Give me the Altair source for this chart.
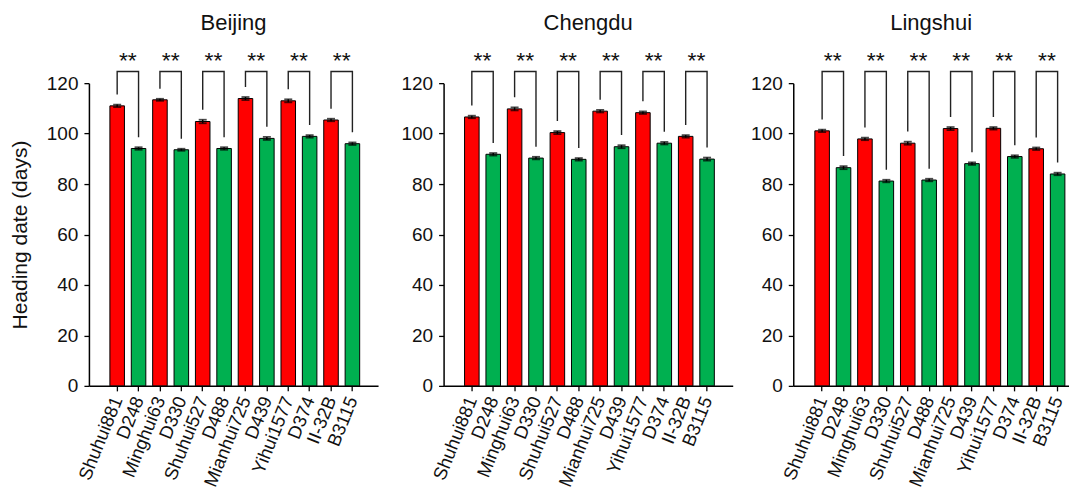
import altair as alt
import pandas as pd

sites = ["Beijing", "Chengdu", "Lingshui"]
cultivars = ["Shuhui881", "D248", "Minghui63", "D330", "Shuhui527", "D488",
             "Mianhui725", "D439", "Yihui1577", "D374", "II-32B", "B3115"]
groups = ["late", "early"] * 6

beijing = [111.0, 94.1, 113.4, 93.6, 104.8, 94.1, 113.9, 98.1, 113.0, 98.9, 105.4, 96.0]
chengdu = [106.6, 91.8, 109.8, 90.3, 100.4, 89.8, 108.9, 94.8, 108.3, 96.2, 98.9, 89.9]
lingshui = [101.1, 86.5, 97.9, 81.2, 96.2, 81.6, 102.0, 88.1, 102.1, 90.9, 94.0, 84.0]

beijing_err = [0.5, 0.5, 0.4, 0.4, 0.7, 0.5, 0.6, 0.6, 0.6, 0.5, 0.5, 0.5]
chengdu_err = [0.5, 0.5, 0.6, 0.5, 0.6, 0.5, 0.5, 0.6, 0.5, 0.5, 0.5, 0.6]
lingshui_err = [0.5, 0.6, 0.5, 0.5, 0.6, 0.5, 0.6, 0.5, 0.5, 0.5, 0.5, 0.5]

significance = ["**"] * 6
bracket_top = 124.6
leg_gap = 4.0
star_y = 126.2

values = {"Beijing": beijing, "Chengdu": chengdu, "Lingshui": lingshui}
errors = {"Beijing": beijing_err, "Chengdu": chengdu_err, "Lingshui": lingshui_err}

RED = "#FF0000"
GREEN = "#00B050"
FONT = "Liberation Sans"

# per-panel layout: (width, paddingOuter, align)
layout = {
    "Beijing": (289.4, 0.92, 0.533),
    "Chengdu": (289.4, 0.92, 0.533),
    "Lingshui": (276.0, 0.60, 0.84),
}


def build_frames(site):
    vals = values[site]
    errs = errors[site]
    bars = pd.DataFrame({
        "cultivar": cultivars,
        "group": groups,
        "value": vals,
        "lo": [v - e for v, e in zip(vals, errs)],
        "hi": [v + e for v, e in zip(vals, errs)],
    })
    br_rows = []
    st_rows = []
    for p in range(6):
        a, b = cultivars[2 * p], cultivars[2 * p + 1]
        va, vb = vals[2 * p] + errs[2 * p], vals[2 * p + 1] + errs[2 * p + 1]
        br_rows += [
            {"pair": p, "step": 0, "cultivar": a, "value": va + leg_gap},
            {"pair": p, "step": 1, "cultivar": a, "value": bracket_top},
            {"pair": p, "step": 2, "cultivar": b, "value": bracket_top},
            {"pair": p, "step": 3, "cultivar": b, "value": vb + leg_gap},
        ]
        st_rows.append({"cultivar": a, "value": star_y, "label": significance[p]})
    return bars, pd.DataFrame(br_rows), pd.DataFrame(st_rows)


def panel(site, first):
    bars, brackets, stars = build_frames(site)
    w, po, al = layout[site]
    xscale = alt.Scale(domain=cultivars, paddingInner=0.32, paddingOuter=po, align=al)
    xaxis = alt.Axis(title=None, labelAngle=292, labelAlign="right", labelBaseline="middle",
                     labelPadding=6, tickSize=5, labelFontSize=18.5, labelFont=FONT,
                     labelColor="#111", labelOverlap=False)
    yaxis = alt.Axis(title="Heading date (days)" if first else None,
                     values=[0, 20, 40, 60, 80, 100, 120], tickSize=5, labelPadding=6,
                     labelFontSize=19, labelFont=FONT, labelColor="#111",
                     titleFontSize=21, titleFont=FONT, titleFontWeight="normal",
                     titleColor="#111", titlePadding=16, grid=False)
    yscale = alt.Scale(domain=[0, 120], nice=False)
    X = alt.X("cultivar:N", scale=xscale, axis=xaxis)
    Y = lambda f: alt.Y(f"{f}:Q", scale=yscale, axis=yaxis)

    bar = alt.Chart(bars).mark_bar(stroke="black", strokeWidth=1).encode(
        x=X, y=Y("value"),
        color=alt.Color("group:N", scale=alt.Scale(domain=["late", "early"], range=[RED, GREEN]),
                        legend=None),
    )
    err = alt.Chart(bars).mark_rule(color="black", strokeWidth=1.5).encode(
        x=X, y=Y("lo"), y2="hi:Q")
    cap_hi = alt.Chart(bars).mark_tick(color="black", size=8, thickness=1.8).encode(
        x=X, y=Y("hi"))
    cap_lo = alt.Chart(bars).mark_tick(color="black", size=8, thickness=1.8).encode(
        x=X, y=Y("lo"))
    br = alt.Chart(brackets).mark_line(color="#222", strokeWidth=1.4).encode(
        x=X, y=Y("value"), detail="pair:N", order="step:Q")
    st = alt.Chart(stars).mark_text(fontSize=23, font=FONT, dx=10.7, baseline="alphabetic",
                                    color="#111").encode(
        x=X, y=Y("value"), text="label:N")
    return alt.layer(bar, err, cap_hi, cap_lo, br, st).properties(
        width=w, height=303,
        title=alt.TitleParams(text=site, fontSize=22, font=FONT, fontWeight="normal",
                              color="#111", anchor="middle", offset=15),
    )


left_pair = alt.hconcat(panel("Beijing", True), panel("Chengdu", False), spacing=22)
chart = alt.hconcat(left_pair, panel("Lingshui", False), spacing=17).properties(
    padding={"left": 1, "top": 3, "right": 0, "bottom": 0}
).configure_view(stroke=None).configure_axis(
    domainColor="black", domainWidth=1.5, tickColor="black", tickWidth=1.3
)

chart.save("out.html", embed_options={"renderer": "svg", "actions": False})
